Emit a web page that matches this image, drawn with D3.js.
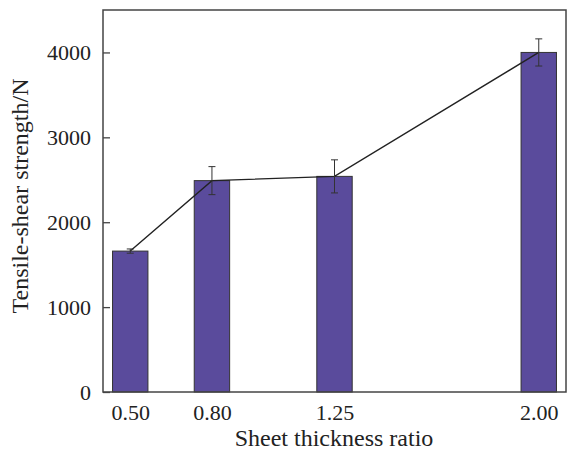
<!DOCTYPE html>
<html>
<head>
<meta charset="utf-8">
<script src="https://cdn.jsdelivr.net/npm/d3@7"></script>
<style>
  html, body { margin: 0; padding: 0; background: #fff; }
  text { font-family: "Liberation Serif", "Times New Roman", serif; fill: #222; }
</style>
</head>
<body>
<svg id="chart" width="569" height="457"></svg>
<script>
// Tensile-shear strength versus sheet thickness ratio
const ratios = [0.50, 0.80, 1.25, 2.00];
const strength = [1660, 2490, 2540, 4000];
const errors = [25, 165, 195, 160];
const xTickLabels = ["0.50", "0.80", "1.25", "2.00"];
const yTicks = [0, 1000, 2000, 3000, 4000];

const svg = d3.select("#chart");
const margin = { left: 103, right: 3, top: 10, bottom: 65 };
const W = 569, H = 457;
const innerW = W - margin.left - margin.right;
const innerH = H - margin.top - margin.bottom;

const x = d3.scaleLinear().domain([0.4, 2.1]).range([0, innerW]);
const y = d3.scaleLinear().domain([0, 4500]).range([innerH, 0]);
const barW = x(0.53) - x(0.40);

const g = svg.append("g").attr("transform", `translate(${margin.left},${margin.top})`);

// bars
g.selectAll("rect.bar").data(ratios).join("rect")
  .attr("class", "bar")
  .attr("x", d => x(d) - barW / 2)
  .attr("y", (d, i) => y(strength[i]))
  .attr("width", barW)
  .attr("height", (d, i) => y(0) - y(strength[i]))
  .attr("fill", "#5a4b9c")
  .attr("stroke", "#333")
  .attr("stroke-width", 1);

// connecting line through bar tops
const line = d3.line().x(d => x(d[0])).y(d => y(d[1]));
g.append("path")
  .datum(ratios.map((r, i) => [r, strength[i]]))
  .attr("d", line)
  .attr("fill", "none")
  .attr("stroke", "#222")
  .attr("stroke-width", 1.4);

// error bars
const capW = 3.5;
const eb = g.selectAll("g.err").data(ratios).join("g").attr("class", "err");
eb.append("line")
  .attr("x1", d => x(d)).attr("x2", d => x(d))
  .attr("y1", (d, i) => y(strength[i] + errors[i]))
  .attr("y2", (d, i) => y(strength[i] - errors[i]));
eb.append("line")
  .attr("x1", d => x(d) - capW).attr("x2", d => x(d) + capW)
  .attr("y1", (d, i) => y(strength[i] + errors[i]))
  .attr("y2", (d, i) => y(strength[i] + errors[i]));
eb.append("line")
  .attr("x1", d => x(d) - capW).attr("x2", d => x(d) + capW)
  .attr("y1", (d, i) => y(strength[i] - errors[i]))
  .attr("y2", (d, i) => y(strength[i] - errors[i]));
eb.selectAll("line").attr("stroke", "#333").attr("stroke-width", 1);

// frame
g.append("rect")
  .attr("x", 0).attr("y", 0)
  .attr("width", innerW).attr("height", innerH)
  .attr("fill", "none")
  .attr("stroke", "#444")
  .attr("stroke-width", 1.5);

// y axis: inward ticks
const yAxis = d3.axisLeft(y).tickValues(yTicks).tickSize(-7).tickPadding(12).tickFormat(d3.format("d"));
const ya = g.append("g").call(yAxis);
ya.select(".domain").remove();
ya.selectAll(".tick line").attr("stroke", "#444").attr("stroke-width", 1.3);
ya.selectAll(".tick text").attr("font-size", 22).attr("fill", "#222")
  .style("font-family", "'Liberation Serif', serif");

// x axis: labels only
const xAxis = d3.axisBottom(x).tickValues(ratios).tickSize(0).tickPadding(12)
  .tickFormat((d, i) => xTickLabels[i]);
const xa = g.append("g").attr("transform", `translate(0,${innerH})`).call(xAxis);
xa.select(".domain").remove();
xa.selectAll(".tick text").attr("font-size", 22).attr("fill", "#222")
  .style("font-family", "'Liberation Serif', serif");

// axis titles
svg.append("text")
  .attr("x", 334)
  .attr("y", 446)
  .attr("text-anchor", "middle")
  .attr("font-size", 24)
  .text("Sheet thickness ratio");

svg.append("text")
  .attr("transform", `translate(28,196) rotate(-90)`)
  .attr("text-anchor", "middle")
  .attr("font-size", 24)
  .text("Tensile-shear strength/N");
</script>
</body>
</html>
